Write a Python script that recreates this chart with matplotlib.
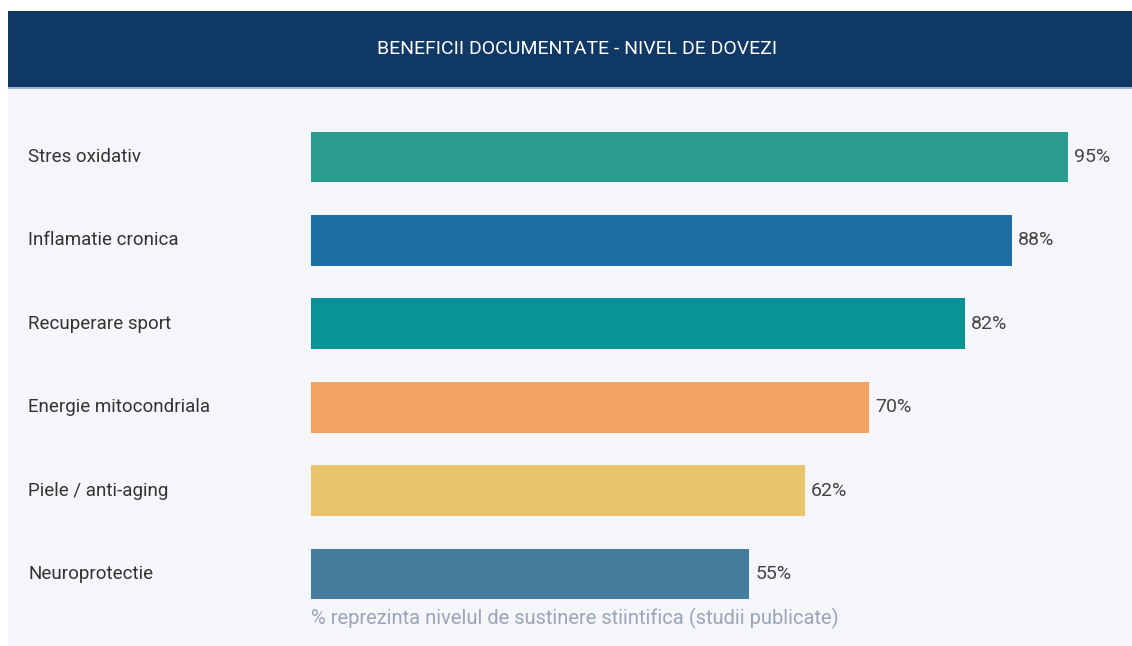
import matplotlib.pyplot as plt
from matplotlib.patches import Rectangle

plt.rcParams['font.family'] = ['Roboto', 'DejaVu Sans']

# Data
categories = ["Stres oxidativ", "Inflamatie cronica", "Recuperare sport",
              "Energie mitocondriala", "Piele / anti-aging", "Neuroprotectie"]
values = [95, 88, 82, 70, 62, 55]
colors = ["#2a9d8f", "#1c6ea4", "#0a9396", "#f4a261", "#e9c46a", "#457b9d"]
title = "BENEFICII DOCUMENTATE - NIVEL DE DOVEZI"
note = "% reprezinta nivelul de sustinere stiintifica (studii publicate)"

W, H = 1132, 646
fig = plt.figure(figsize=(W / 100, H / 100), dpi=100)
fig.patch.set_facecolor("white")

# background panel and header band
fig.add_artist(Rectangle((8 / W, 0), 1, 1 - 88 / H, transform=fig.transFigure,
                         facecolor="#f5f6fa", edgecolor="none", zorder=0))
fig.add_artist(Rectangle((8 / W, 1 - 88 / H), 1, 77 / H, transform=fig.transFigure,
                         facecolor="#0f3864", edgecolor="none", zorder=1))
fig.add_artist(Rectangle((8 / W, 1 - 89 / H), 1, 1.5 / H, transform=fig.transFigure,
                         facecolor="#9fb6cf", edgecolor="none", zorder=1))
fig.text(577 / W, 1 - 49 / H, title, color="white", fontsize=14,
         ha="center", va="center")

# axes: x 311..1108 px maps to 0..100
top, bot = 115.3, 615.7
ax = fig.add_axes([311 / W, 1 - bot / H, (1108 - 311) / W, (bot - top) / H])
ax.set_facecolor("none")
y = list(range(len(categories)))
ax.barh(y, values, height=0.61, color=colors, edgecolor="none")
ax.set_xlim(0, 100)
ax.set_ylim(len(categories) - 0.5, -0.5)
ax.axis("off")

for i, (c, v) in enumerate(zip(categories, values)):
    ax.annotate(f"{v}%", (v, i), xytext=(6, 0), textcoords="offset pixels",
                va="center", ha="left", fontsize=14, color="#444444")
    ax.annotate(c, (0, i), xytext=(28 - 311, 0), textcoords="offset pixels",
                va="center", ha="left", fontsize=13.5, color="#333333")

fig.text(311 / W, 1 - 618 / H, note, color="#9aa5b8", fontsize=14.5,
         ha="left", va="center")

fig.savefig("out.png", dpi=100)
